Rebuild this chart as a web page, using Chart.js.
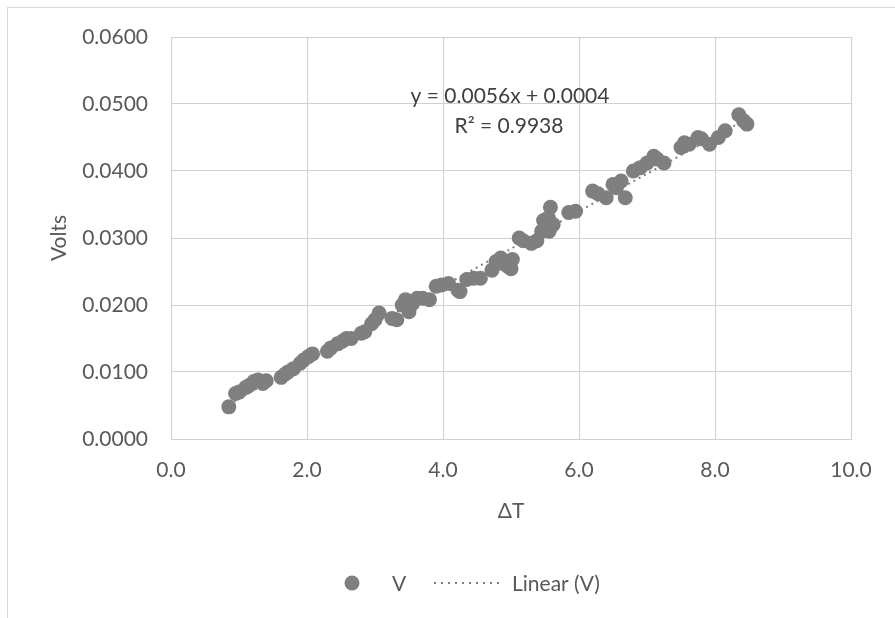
<!DOCTYPE html>
<html>
<head>
<meta charset="utf-8">
<script src="https://cdn.jsdelivr.net/npm/chart.js@4.4.1/dist/chart.umd.min.js"></script>
<style>
  html, body { margin: 0; padding: 0; background: #ffffff; }
  #wrap { position: relative; width: 895px; height: 618px; overflow: hidden; }
  #frame { position: absolute; left: 7px; top: 7px; width: 1000px; height: 1000px; border: 1px solid #d9d9d9; box-sizing: border-box; }
  canvas { position: absolute; left: 0; top: 0; }
</style>
</head>
<body>
<div id="wrap">
  <div id="frame"></div>
  <canvas id="c" width="895" height="618"></canvas>
</div>
<script>
// ΔT values (x) and measured Volts (y)
const deltaT = [0.85,0.95,1.00,1.10,1.15,1.22,1.28,1.35,1.40,1.62,1.68,1.72,1.80,1.90,1.95,2.02,2.08,2.30,2.35,2.45,2.52,2.58,2.65,2.80,2.85,2.95,3.00,3.06,3.25,3.32,3.40,3.45,3.50,3.55,3.62,3.70,3.80,3.90,3.98,4.08,4.22,4.25,4.35,4.45,4.55,4.72,4.78,4.85,4.88,4.95,5.00,5.02,5.12,5.18,5.30,5.38,5.45,5.48,5.55,5.56,5.58,5.62,5.85,5.95,6.20,6.28,6.40,6.50,6.55,6.62,6.68,6.80,6.90,7.00,7.10,7.15,7.25,7.50,7.55,7.62,7.75,7.80,7.92,8.05,8.15,8.35,8.42,8.47];
const volts = [0.0048,0.0068,0.0070,0.0077,0.0080,0.0086,0.0088,0.0083,0.0087,0.0092,0.0097,0.0100,0.0105,0.0113,0.0118,0.0123,0.0127,0.0131,0.0136,0.0142,0.0146,0.0150,0.0150,0.0158,0.0160,0.0172,0.0178,0.0188,0.0180,0.0178,0.0200,0.0208,0.0190,0.0202,0.0210,0.0210,0.0208,0.0228,0.0230,0.0232,0.0222,0.0220,0.0238,0.0240,0.0240,0.0252,0.0265,0.0270,0.0262,0.0258,0.0254,0.0268,0.0300,0.0296,0.0292,0.0296,0.0310,0.0326,0.0330,0.0310,0.0346,0.0320,0.0338,0.0340,0.0370,0.0366,0.0360,0.0380,0.0375,0.0385,0.0360,0.0400,0.0405,0.0412,0.0422,0.0418,0.0412,0.0435,0.0442,0.0440,0.0450,0.0448,0.0440,0.0450,0.0460,0.0484,0.0475,0.0470];
// Linear trendline end points (as drawn)
const trendX = [0.85, 8.47];
const trendY = [0.0052, 0.0478];
// Labels
const seriesName = 'V';
const trendName = 'Linear (V)';
const equationText = 'y = 0.0056x + 0.0004';
const r2Text = 'R\u00B2 = 0.9938';
const xTitle = '\u0394T';
const yTitle = 'Volts';

const FONT = 'Lato, "Open Sans", sans-serif';
const TXT = '#595959';

const overlay = {
  id: 'overlay',
  afterDraw(chart) {
    const ctx = chart.ctx;
    ctx.save();
    // equation annotation
    ctx.fillStyle = '#404040';
    ctx.font = '21px ' + FONT;
    ctx.textAlign = 'center';
    ctx.textBaseline = 'middle';
    ctx.fillText(equationText, 510, 96);
    ctx.fillText(r2Text, 509, 126);
    // legend
    ctx.fillStyle = '#7f7f7f';
    ctx.beginPath();
    ctx.arc(352, 583, 7.5, 0, Math.PI * 2);
    ctx.fill();
    ctx.fillStyle = TXT;
    ctx.textAlign = 'left';
    ctx.fillText(seriesName, 392, 584);
    ctx.strokeStyle = '#7f7f7f';
    ctx.lineWidth = 2;
    ctx.setLineDash([2, 5]);
    ctx.beginPath();
    ctx.moveTo(434, 583);
    ctx.lineTo(504, 583);
    ctx.stroke();
    ctx.setLineDash([]);
    ctx.fillText(trendName, 512, 584);
    ctx.restore();
  }
};

const pts = deltaT.map((x, i) => ({ x: x, y: volts[i] }));
const trend = trendX.map((x, i) => ({ x: x, y: trendY[i] }));

new Chart(document.getElementById('c'), {
  type: 'scatter',
  data: {
    datasets: [
      {
        label: trendName,
        type: 'line',
        data: trend,
        borderColor: '#7f7f7f',
        borderWidth: 2,
        borderDash: [2, 4],
        pointRadius: 0,
        fill: false,
        order: 0
      },
      {
        label: seriesName,
        data: pts,
        backgroundColor: '#7f7f7f',
        borderWidth: 0,
        pointRadius: 7.5,
        pointHoverRadius: 7.5,
        order: 1
      }
    ]
  },
  options: {
    responsive: false,
    animation: false,
    events: [],
    layout: { padding: { left: 0, right: 44, top: 37, bottom: 0 } },
    plugins: { legend: { display: false }, tooltip: { enabled: false } },
    scales: {
      x: {
        type: 'linear',
        min: 0, max: 10,
        ticks: { stepSize: 2, color: TXT, font: { family: FONT, size: 21 }, padding: 19, callback: v => v.toFixed(1), maxRotation: 0 },
        grid: { color: '#d0d0d0', lineWidth: 1, drawTicks: false },
        border: { display: true, color: '#d0d0d0' },
        title: { display: true, text: xTitle, color: TXT, font: { family: FONT, size: 21 }, padding: { top: 0, bottom: 94 } },
        afterFit(s) { s.height = 179; }
      },
      y: {
        type: 'linear',
        min: 0, max: 0.06,
        ticks: { stepSize: 0.01, color: TXT, font: { family: FONT, size: 21 }, padding: 23, callback: v => v.toFixed(4) },
        grid: { color: '#d0d0d0', lineWidth: 1, drawTicks: false },
        border: { display: true, color: '#d0d0d0' },
        title: { display: true, text: yTitle, color: TXT, font: { family: FONT, size: 21 }, padding: { top: 47, bottom: 0 } },
        afterFit(s) { s.width = 171; }
      }
    }
  },
  plugins: [overlay]
});
</script>
</body>
</html>
